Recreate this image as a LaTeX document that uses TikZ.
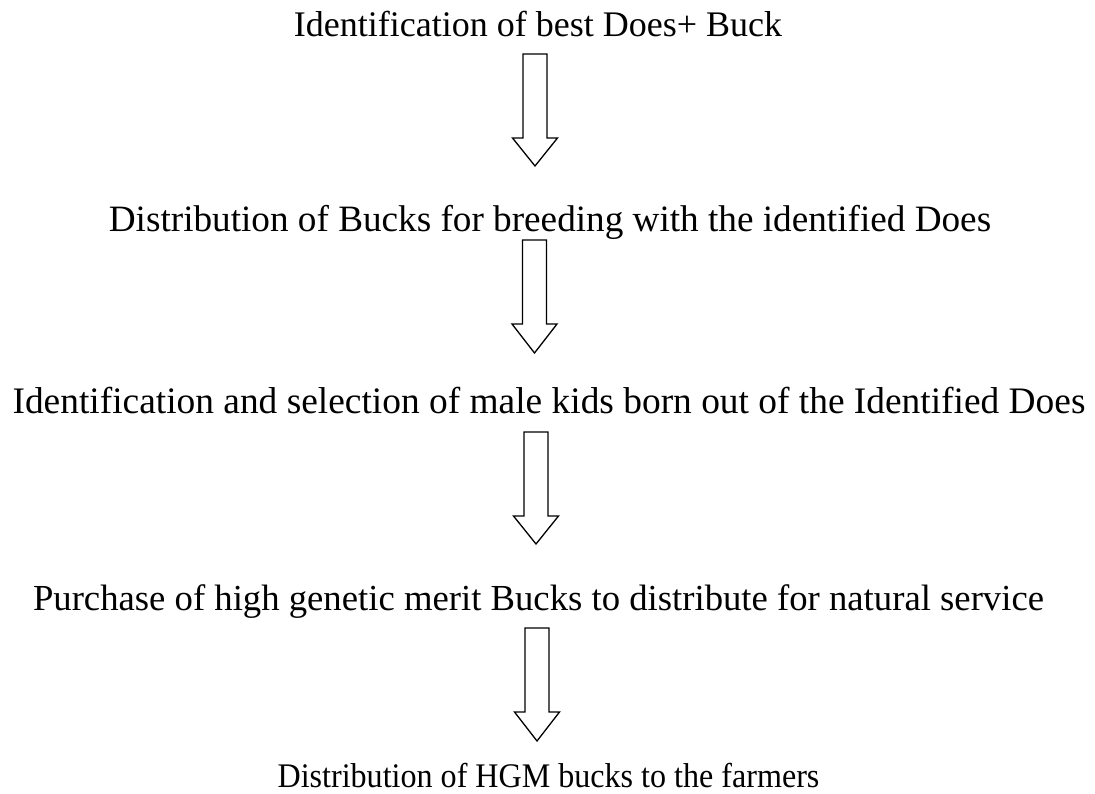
\documentclass[tikz,border=0pt]{standalone}
\usepackage{fontspec}
\setmainfont{Liberation Serif}
\usetikzlibrary{positioning,calc}

\tikzset{
    steptext/.style={inner sep=0pt, anchor=base, font=\fontsize{#1}{#1}\selectfont},
    steptext/.default=36,
    hollow/.style={draw=black, line width=1.3pt, fill=white, line join=miter}
}

\begin{document}
\begin{tikzpicture}[x=1pt, y=-1pt]
    \useasboundingbox (0,0) rectangle (1095,794);

    % Steps
    \node[steptext]       (ident)    at (538,37)    {Identification of best Does+ Buck};
    \node[steptext=37.2]  (distrib)  at (550,232)   {Distribution of Bucks for breeding with the identified Does};
    \node[steptext=37.4]  (select)   at (549,413)   {Identification and selection of male kids born out of the Identified Does};
    \node[steptext=36.7]  (purchase) at (538.5,610) {Purchase of high genetic merit Bucks to distribute for natural service};
    \node[steptext=34.5]  (hgm)      at (548.5,787) {\scalebox{0.93}[1]{Distribution of HGM bucks to the farmers}};

    % Hollow arrows: centre / top / shoulder / tip
    \foreach \x/\t/\s/\e in {535/54/138/166, 534.5/240/324/353, 536/432/516/544, 537/628/712/741}
        \draw[hollow] (\x-12,\t) -- (\x+12,\t) -- (\x+12,\s) -- (\x+22.5,\s)
            -- (\x,\e) -- (\x-22.5,\s) -- (\x-12,\s) -- cycle;
\end{tikzpicture}
\end{document}
